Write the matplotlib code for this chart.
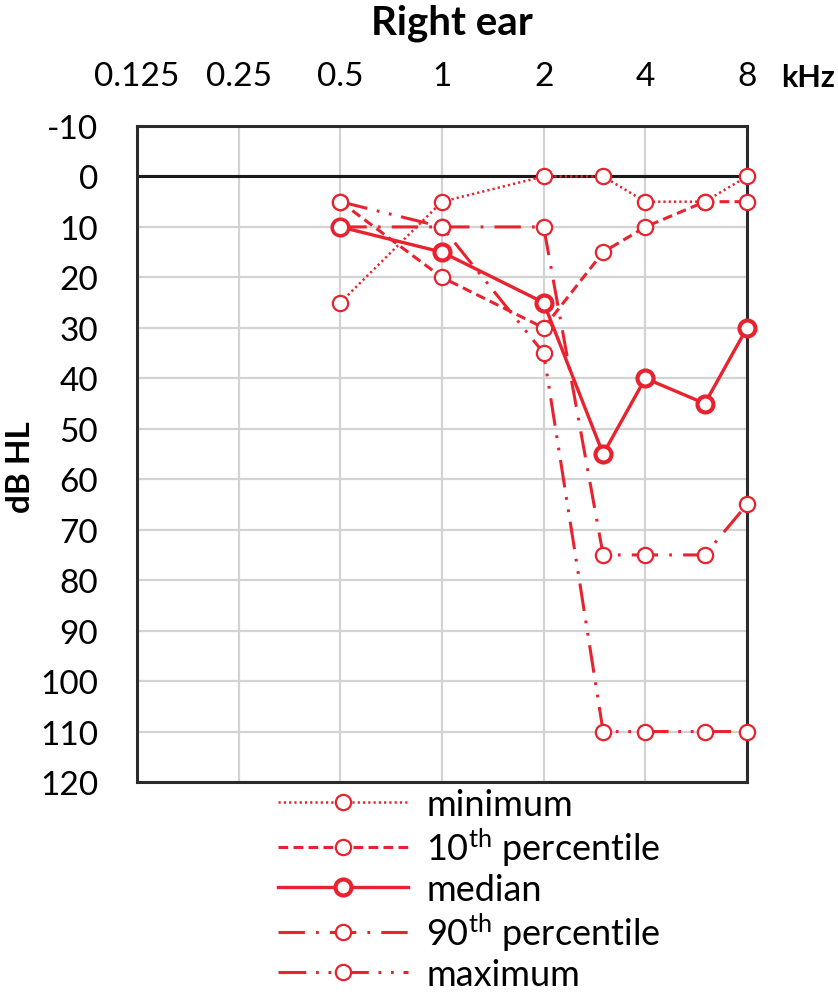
import matplotlib
matplotlib.use("Agg")
import matplotlib.pyplot as plt

plt.rcParams['font.family'] = ['Lato', 'DejaVu Sans']
plt.rcParams['mathtext.fontset'] = 'custom'
plt.rcParams['mathtext.rm'] = 'Lato'
plt.rcParams['mathtext.it'] = 'Lato'
plt.rcParams['lines.scale_dashes'] = False

# ---- data ----
freqs = [0.5, 1, 2, 3, 4, 6, 8]
minimum = [25, 5, 0, 0, 5, 5, 0]
p10 = [5, 20, 30, 15, 10, 5, 5]
median = [10, 15, 25, 55, 40, 45, 30]
p90 = [10, 10, 10, 75, 75, 75, 65]
maximum = [5, 10, 35, 110, 110, 110, 110]
series_labels = ['minimum', '$\\mathrm{10}^{\\mathrm{th}}$ percentile', 'median',
                 '$\\mathrm{90}^{\\mathrm{th}}$ percentile', 'maximum']
xtick_vals = [0.125, 0.25, 0.5, 1, 2, 4, 8]
xtick_labels = ['0.125', '0.25', '0.5', '1', '2', '4', '8']
ytick_vals = list(range(-10, 121, 10))

RED = '#E8232F'

fig = plt.figure(figsize=(8.38, 9.95), dpi=100)
ax = fig.add_axes([137/838, 1-783/995, (747-137)/838, (783-127)/995])

ax.set_xscale('log', base=2)
ax.set_xlim(0.125, 8)
ax.set_ylim(120, -10)
ax.set_xticks(xtick_vals)
ax.set_xticklabels(xtick_labels)
ax.xaxis.set_minor_locator(matplotlib.ticker.NullLocator())
ax.set_yticks(ytick_vals)
ax.set_yticklabels([str(v) for v in ytick_vals])
ax.xaxis.tick_top()
ax.tick_params(axis='x', length=0, pad=25, labelsize=24)
ax.tick_params(axis='y', length=0, pad=28, labelsize=24)
ax.grid(True, color='#D3D3D3', lw=1.6, zorder=0)
ax.set_axisbelow(True)
for s in ax.spines.values():
    s.set_color('#2b2b2b')
    s.set_linewidth(2.2)
ax.axhline(0, color='#1a1a1a', lw=2.2, zorder=1)

common = dict(color=RED, marker='o', mfc='white', mec=RED, clip_on=False, zorder=3)
styles = [
    dict(ls=(0, (1.6, 2.2)), lw=1.8, ms=11, mew=1.6),
    dict(ls=(0, (7, 3.8)), lw=2.2, ms=11, mew=1.6),
    dict(ls='-', lw=2.4, ms=11.5, mew=3.0),
    dict(ls=(0, (19, 8, 2, 8)), lw=2.2, ms=11, mew=1.6),
    dict(ls=(0, (20, 7, 2, 7, 2, 7)), lw=2.2, ms=11, mew=1.6),
]
data = [minimum, p10, median, p90, maximum]
handles = []
for vals, st, lab in zip(data, styles, series_labels):
    h, = ax.plot(freqs, vals, label=lab, **common, **st)
    handles.append(h)

fig.legend(handles, series_labels, loc='upper left',
           bbox_to_anchor=(278/838, 1-789/995), frameon=False,
           fontsize=26, handlelength=3.6, handletextpad=0.5,
           labelspacing=0.13, numpoints=1, borderpad=0, borderaxespad=0)

fig.text(452/838, 1-34/995, 'Right ear', ha='center', va='baseline',
         fontsize=29, fontweight='bold')
fig.text(808/838, 1-87/995, 'kHz', ha='center', va='baseline',
         fontsize=22, fontweight='bold')
fig.text(21/838, 1-467/995, 'dB HL', ha='center', va='center',
         rotation=90, fontsize=24, fontweight='bold')

fig.savefig('out.png', dpi=100)
